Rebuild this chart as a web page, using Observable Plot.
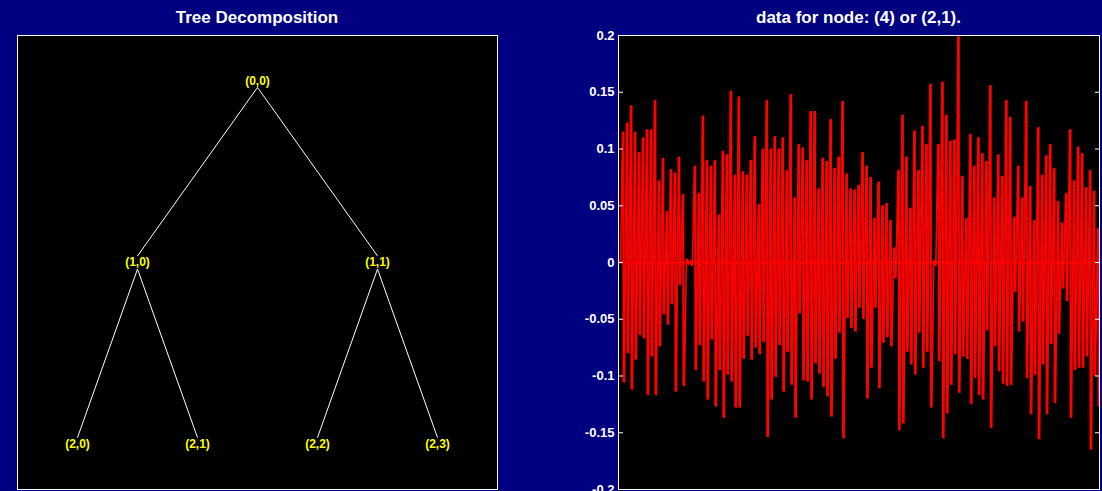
<!DOCTYPE html>
<html><head><meta charset="utf-8">
<script src="https://cdn.jsdelivr.net/npm/d3@7"></script>
<script src="https://cdn.jsdelivr.net/npm/@observablehq/plot@0.6"></script>
<style>
html,body{margin:0;padding:0;background:#000080;overflow:hidden;}
#fig{position:relative;width:1102px;height:491px;overflow:hidden;background:#000080;font-family:"Liberation Sans",Arial,sans-serif;}
.title{position:absolute;top:9px;color:#fff;font-weight:bold;font-size:17px;line-height:17px;text-align:center;white-space:nowrap;z-index:2;}
.panel{position:absolute;top:0;}
</style></head><body><div id="fig"></div>
<script>
const treeTitle = "Tree Decomposition";
const signalTitle = "data for node: (4) or (2,1).";

// Tree nodes (depth, position)
const nodeLabels = ["(0,0)", "(1,0)", "(1,1)", "(2,0)", "(2,1)", "(2,2)", "(2,3)"];
const nodeDepth = [0, 1, 1, 2, 2, 2, 2];
const nodePos = [0, 0, 1, 0, 1, 2, 3];

// Signal axis ticks
const yTicks = [-0.2, -0.15, -0.1, -0.05, 0, 0.05, 0.1, 0.15, 0.2];
const yTickLabels = ["-0.2", "-0.15", "-0.1", "-0.05", "0", "0.05", "0.1", "0.15", "0.2"];

// Signal: upper and lower excursions per slice, left to right
const upper = [
  0,
  0.115,0.123,0.138,0.115,0.097,0.110,0.117,0.117,0.143,0.072,0.092,0.045,0.082,0.079,0.093,0.060,0.003,0.002,0.085,0.061,0.129,0.090,0.085,0.090,0.042,0.098,0.095,0.151,0.077,0.146,
  0.080,0.077,0.090,0.111,0.051,0.100,0.143,0.100,0.111,0.100,0.110,0.081,0.148,0.057,0.104,0.101,0.090,0.133,0.133,0.065,0.092,0.089,0.126,0.083,0.093,0.142,0.078,0.065,0.064,0.068,0.097,
  0.085,0.075,0.039,0.071,0.050,0.052,0.037,0.013,0.081,0.130,0.093,0.048,0.116,0.081,0.120,0.104,0.157,0.002,0.104,0.159,0.130,0.107,0.108,0.199,0.076,0.039,0.113,0.085,0.110,0.096,0.089,
  0.156,0.057,0.095,0.076,0.143,0.128,0.040,0.085,0.057,0.142,0.067,0.037,0.119,0.077,0.094,0.104,0.083,0.054,0.035,0.061,0.117,0.072,0.102,0.096,0.066,0.081,0.063,0.030
];
const lower = [
  0,
  -0.106,-0.080,-0.112,-0.086,-0.064,-0.067,-0.117,-0.083,-0.117,-0.074,-0.046,-0.055,-0.037,-0.114,-0.020,-0.109,-0.002,-0.003,-0.095,-0.073,-0.105,-0.121,-0.068,-0.127,-0.095,-0.137,-0.099,-0.105,-0.128,-0.128,
  -0.085,-0.065,-0.086,-0.075,-0.081,-0.070,-0.154,-0.121,-0.101,-0.073,-0.114,-0.079,-0.108,-0.137,-0.045,-0.104,-0.105,-0.121,-0.089,-0.098,-0.110,-0.118,-0.136,-0.085,-0.062,-0.155,-0.049,-0.058,-0.061,-0.040,-0.050,
  -0.120,-0.093,-0.040,-0.111,-0.071,-0.066,-0.074,-0.014,-0.148,-0.142,-0.079,-0.090,-0.099,-0.062,-0.093,-0.079,-0.128,-0.003,-0.087,-0.155,-0.133,-0.108,-0.081,-0.115,-0.083,-0.085,-0.125,-0.102,-0.117,-0.121,-0.060,
  -0.146,-0.074,-0.096,-0.107,-0.109,-0.108,-0.026,-0.061,-0.052,-0.102,-0.134,-0.099,-0.156,-0.090,-0.134,-0.072,-0.124,-0.063,-0.023,-0.034,-0.137,-0.095,-0.093,-0.093,-0.083,-0.165,-0.100,-0.127
];

const fig = document.getElementById("fig");
const font = "'Liberation Sans', Arial, sans-serif";

// ---- Left: tree ----
const nodes = nodeLabels.map((label, i) => ({
  label, depth: nodeDepth[i], pos: nodePos[i],
  x: (2 * nodePos[i] + 1) / 2 ** (nodeDepth[i] + 1)
}));
const gap = 0.036;
const links = nodes.filter(n => n.depth > 0).map(n => {
  const p = nodes.find(q => q.depth === n.depth - 1 && q.pos === Math.floor(n.pos / 2));
  return {x1: p.x, y1: p.depth + gap, x2: n.x, y2: n.depth - gap};
});

const treePlot = Plot.plot({
  width: 500, height: 520,
  marginLeft: 17, marginRight: 3, marginTop: 35, marginBottom: 31,
  x: {domain: [0, 1], axis: null},
  y: {domain: [-0.25, 2.25], reverse: true, axis: null},
  style: {background: "transparent", fontFamily: font, overflow: "visible"},
  marks: [
    Plot.frame({fill: "black"}),
    Plot.link(links, {x1: "x1", y1: "y1", x2: "x2", y2: "y2", stroke: "white", strokeWidth: 1}),
    Plot.text(nodes, {x: "x", y: "depth", text: "label", fill: "#ffff00", fontWeight: "bold", fontSize: 12}),
    Plot.frame({stroke: "white"})
  ]
});
const leftDiv = document.createElement("div");
leftDiv.className = "panel";
leftDiv.style.left = "0px";
leftDiv.appendChild(treePlot);
fig.appendChild(leftDiv);

// ---- Right: signal ----
const series = [];
const slices = [];
upper.forEach((u, i) => {
  series.push({i: 2 * i, v: u});
  series.push({i: 2 * i + 1, v: lower[i]});
  slices.push({i: 2 * i + 0.5, lo: lower[i], hi: u});
});
const labelOf = d => yTickLabels[yTicks.findIndex(t => Math.abs(t - d) < 1e-9)];

const sigPlot = Plot.plot({
  width: 542, height: 509,
  marginLeft: 58, marginRight: 3, marginTop: 35, marginBottom: 20,
  x: {domain: [0, series.length - 1], axis: null},
  y: {domain: [-0.2, 0.2], axis: null},
  style: {background: "transparent", fontFamily: font, overflow: "visible"},
  marks: [
    Plot.frame({fill: "black"}),
    Plot.ruleY([0], {stroke: "#ff0000", strokeWidth: 2}),
    Plot.ruleX(slices, {x: "i", y1: "lo", y2: "hi", stroke: "#ff0000", strokeWidth: 2}),
    Plot.line(series, {x: "i", y: "v", stroke: "#ff0000", strokeWidth: 1.6, strokeLinejoin: "miter", strokeMiterlimit: 1}),
    Plot.axisY(yTicks, {anchor: "left", tickSize: -5, tickPadding: 9, tickFormat: labelOf, label: null,
      color: "white", fontSize: 13, fontWeight: "bold"}),
    Plot.axisY(yTicks, {anchor: "right", tickSize: -5, tickFormat: () => "", label: null, color: "white"}),
    Plot.frame({stroke: "white"})
  ]
});
const rightDiv = document.createElement("div");
rightDiv.className = "panel";
rightDiv.style.left = "560px";
rightDiv.appendChild(sigPlot);
fig.appendChild(rightDiv);

// ---- Titles ----
function addTitle(text, left, width) {
  const t = document.createElement("div");
  t.className = "title";
  t.style.left = left + "px";
  t.style.width = width + "px";
  t.textContent = text;
  fig.appendChild(t);
}
addTitle(treeTitle, 17, 480);
addTitle(signalTitle, 618, 481);
</script>
</body></html>
